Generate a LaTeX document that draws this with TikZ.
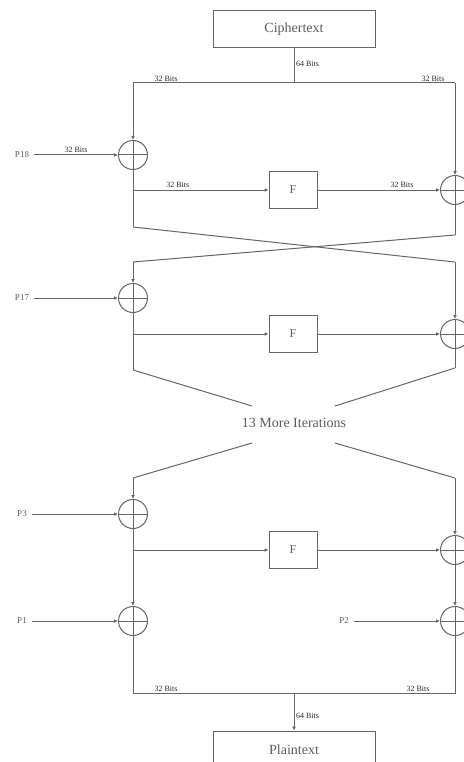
\documentclass[tikz,border=0pt]{standalone}
\usepackage{fontspec}
\setmainfont{Liberation Serif}
\usepackage{xcolor}
\usetikzlibrary{arrows.meta,calc,positioning}
\definecolor{wire}{HTML}{666666}
\definecolor{inkgray}{HTML}{5C5C5C}
\tikzset{
  line/.style={draw=wire,line width=1pt},
  flow/.style={line,-{Latex[length=4pt,width=3.8pt]}},
  block/.style={draw=wire,line width=1pt,text=inkgray,inner sep=0pt,
                font=\fontsize{14}{16}\selectfont},
  fbox/.style={block,minimum width=48,minimum height=37,font=\fontsize{12}{14}\selectfont},
  xor/.style={circle,draw=wire,line width=1pt,minimum size=29,inner sep=0pt,
              path picture={\draw[wire,line width=1pt]
                (path picture bounding box.north)--(path picture bounding box.south)
                (path picture bounding box.west)--(path picture bounding box.east);}},
  bits/.style={font=\fontsize{8}{9}\selectfont,text=black!85,inner sep=1.5pt},
  key/.style={font=\fontsize{9}{10}\selectfont,text=inkgray,inner sep=1pt}
}

\begin{document}
\begin{tikzpicture}[x=1pt,y=-1pt]
  \useasboundingbox (0,0) rectangle (463,762);
  % input
  \node[block,minimum width=162,minimum height=37] (cipher) at (294,29.5) {Ciphertext};
  \coordinate (top) at (294,83);
  \coordinate (tl) at (133,83);
  \coordinate (tr) at (455,83);
  \draw[line] (cipher.south) -- node[bits,right,pos=.45]{64 Bits} (top);
  \draw[line] (tl) -- (tr);
  \node[bits] at (166,79) {32 Bits};
  \node[bits] at (433,79) {32 Bits};
  % round 1
  \node[xor] (x1l) at (133,155) {};
  \node[xor] (x1r) at (455,190) {};
  \node[fbox] (f1) at (293,190) {F};
  \node[key] (p18) at (22,155) {P18};
  \coordinate (b1) at (133,190);
  \coordinate (c1l) at (133,227);
  \coordinate (c1r) at (455,235);
  \draw[flow] (tl) -- (x1l.north);
  \draw[flow] (p18.east) ++(4,0) -- node[bits,above]{32 Bits} (x1l.west);
  \draw[line] (x1l.south) -- (c1l);
  \draw[flow] (b1) -- node[bits,above,pos=.33]{32 Bits} (f1.west);
  \draw[flow] (f1.east) -- node[bits,above,pos=.69]{32 Bits} (x1r.west);
  \draw[flow] (tr) -- (x1r.north);
  \draw[line] (x1r.south) -- (c1r);
  % swap
  \coordinate (t2l) at (133,262);
  \coordinate (t2r) at (455,262);
  \draw[line] (c1l) -- (t2r);
  \draw[line] (c1r) -- (t2l);
  % round 2
  \node[xor] (x2l) at (133,298) {};
  \node[xor] (x2r) at (455,334) {};
  \node[fbox] (f2) at (293,334) {F};
  \node[key] (p17) at (22,298) {P17};
  \coordinate (b2) at (133,334);
  \coordinate (c2l) at (133,370);
  \coordinate (c2r) at (455,368);
  \draw[flow] (t2l) -- (x2l.north);
  \draw[flow] (p17.east) ++(4,0) -- (x2l.west);
  \draw[line] (x2l.south) -- (c2l);
  \draw[flow] (b2) -- (f2.west);
  \draw[flow] (f2.east) -- (x2r.west);
  \draw[flow] (t2r) -- (x2r.north);
  \draw[line] (x2r.south) -- (c2r);
  % more iterations
  \node[block,draw=none] (more) at (294,423) {13 More Iterations};
  \coordinate (m1) at (252,406);
  \coordinate (m2) at (335,406);
  \coordinate (m3) at (252,443);
  \coordinate (m4) at (335,443);
  \coordinate (t3l) at (133,478);
  \coordinate (t3r) at (455,478);
  \draw[line] (c2l) -- (m1);
  \draw[line] (c2r) -- (m2);
  \draw[line] (m3) -- (t3l);
  \draw[line] (m4) -- (t3r);
  % last round
  \node[xor] (x3l) at (133,514) {};
  \node[xor] (x3r) at (455,550) {};
  \node[fbox] (f3) at (293,550) {F};
  \node[key] (p3) at (22,514) {P3};
  \coordinate (b3) at (133,550);
  \draw[flow] (t3l) -- (x3l.north);
  \draw[flow] (p3.east) ++(4,0) -- (x3l.west);
  \draw[flow] (b3) -- (f3.west);
  \draw[flow] (f3.east) -- (x3r.west);
  \draw[flow] (t3r) -- (x3r.north);
  % output whitening
  \node[xor] (x4l) at (133,621) {};
  \node[xor] (x4r) at (455,621) {};
  \node[key] (p1) at (22,621) {P1};
  \node[key] (p2) at (344,621) {P2};
  \draw[flow] (x3l.south) -- (x4l.north);
  \draw[flow] (x3r.south) -- (x4r.north);
  \draw[flow] (p1.east) ++(4,0) -- (x4l.west);
  \draw[flow] (p2.east) ++(4,0) -- (x4r.west);
  \coordinate (bl) at (133,693);
  \coordinate (br) at (455,693);
  \coordinate (bot) at (294,693);
  \draw[line] (x4l.south) -- (bl) -- (br) -- (x4r.south);
  \node[bits] at (166,689) {32 Bits};
  \node[bits] at (418,689) {32 Bits};
  % output
  \node[block,minimum width=162,minimum height=37] (plain) at (294,749.5) {Plaintext};
  \draw[flow] (bot) -- node[bits,right,pos=.6]{64 Bits} (plain.north);
\end{tikzpicture}
\end{document}
